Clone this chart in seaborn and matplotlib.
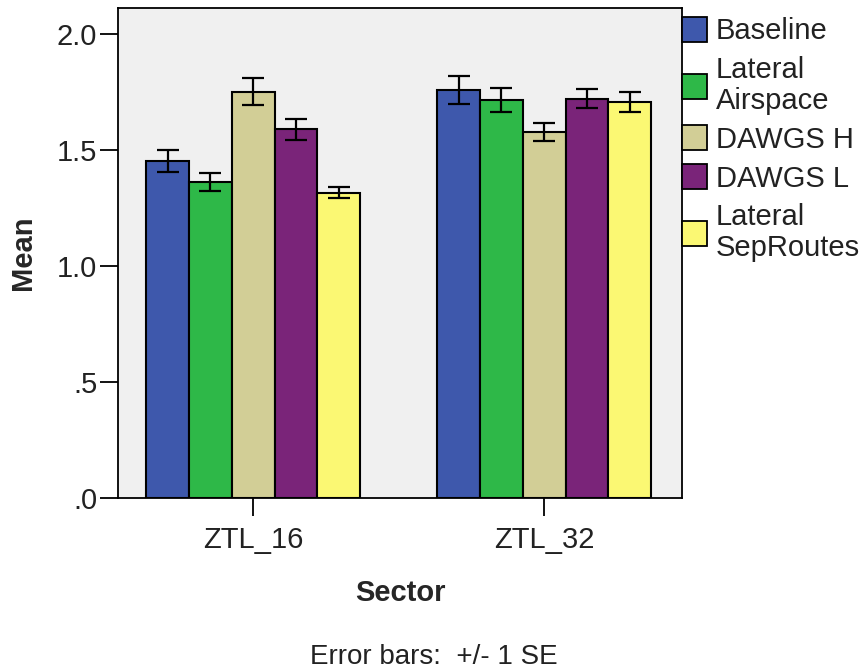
import matplotlib
matplotlib.use("Agg")
import matplotlib.pyplot as plt
import seaborn as sns
import pandas as pd

# Mean values and standard errors per sector and condition
sectors = ["ZTL_16", "ZTL_32"]
conditions = ["Baseline", "Lateral\nAirspace", "DAWGS H", "DAWGS L", "Lateral\nSepRoutes"]
means_ztl16 = [1.451, 1.361, 1.750, 1.588, 1.314]
means_ztl32 = [1.757, 1.713, 1.577, 1.720, 1.704]
se_ztl16 = [0.049, 0.040, 0.058, 0.045, 0.023]
se_ztl32 = [0.061, 0.051, 0.039, 0.041, 0.044]
colors = ["#3E58AC", "#2EB848", "#D2CE96", "#7A2479", "#FBF873"]
ytick_vals = [0.0, 0.5, 1.0, 1.5, 2.0]
ytick_labels = [".0", ".5", "1.0", "1.5", "2.0"]

rows = []
for sec, means in zip(sectors, [means_ztl16, means_ztl32]):
    for cond, m in zip(conditions, means):
        rows.append({"Sector": sec, "Condition": cond, "Mean": m})
df = pd.DataFrame(rows)
se_by_condition = [[se_ztl16[i], se_ztl32[i]] for i in range(len(conditions))]

sns.set_style("white")
plt.rcParams["font.family"] = ["Liberation Sans", "DejaVu Sans"]

FS = 21
TXT = "#222222"

fig = plt.figure(figsize=(8.68, 6.69), dpi=100)
ax = fig.add_axes([0.136, 0.256, 0.650, 0.732])
ax.set_facecolor("#F0F0F0")

sns.barplot(data=df, x="Sector", y="Mean", hue="Condition", order=sectors,
            hue_order=conditions, palette=colors, errorbar=None, width=0.735,
            edgecolor="black", linewidth=1.5, saturation=1, ax=ax)

# +/- 1 SE error bars at each bar's center
for container, errs in zip(ax.containers, se_by_condition):
    xs = [p.get_x() + p.get_width() / 2 for p in container.patches]
    ys = [p.get_height() for p in container.patches]
    ax.errorbar(xs, ys, yerr=errs, fmt="none", ecolor="black",
                elinewidth=1.6, capsize=8, capthick=1.6, zorder=5)

ax.set_xlim(-0.464, 1.474)
ax.set_ylim(0, 2.11)
ax.set_yticks(ytick_vals)
ax.set_yticklabels(ytick_labels)

for s in ax.spines.values():
    s.set_visible(True)
    s.set_color("black")
    s.set_linewidth(1.3)

ax.tick_params(axis="both", which="both", direction="out", length=13, width=1.3,
               color="black", labelsize=FS, labelcolor=TXT, pad=2,
               bottom=True, left=True)
ax.tick_params(axis="x", pad=7)

ax.set_ylabel("Mean", fontsize=FS, fontweight="bold", labelpad=14)
ax.set_xlabel("Sector", fontsize=FS, fontweight="bold", labelpad=18)

leg = ax.legend(loc="upper left", bbox_to_anchor=(1.0, 0.982), borderaxespad=0,
                borderpad=0, frameon=False, fontsize=FS, handlelength=0.85,
                handleheight=0.95, handletextpad=0.3, labelspacing=0.36)
for h in leg.legend_handles:
    h.set_edgecolor("black")
    h.set_linewidth(1.3)
for t in leg.get_texts():
    t.set_linespacing(1.12)
    t.set_color(TXT)

fig.text(0.50, 0.018, "Error bars:  +/- 1 SE", ha="center", va="center",
         fontsize=FS - 1, color=TXT)

fig.savefig("out.png", dpi=100, facecolor="white")
